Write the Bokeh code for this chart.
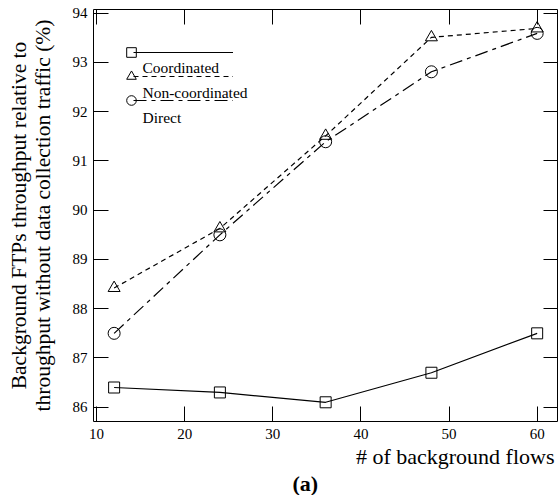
from bokeh.plotting import figure
from bokeh.models import Range1d, LinearAxis, Legend, LegendItem, FixedTicker, Label, Title
from bokeh.core.properties import value
from bokeh.embed import file_html
from bokeh.resources import INLINE

flows = [12, 24, 36, 48, 60]
coordinated = [86.4, 86.3, 86.1, 86.7, 87.5]
non_coordinated = [88.42, 89.63, 91.51, 93.51, 93.69]
direct = [87.5, 89.5, 91.39, 92.81, 93.59]
series_names = ["Coordinated", "Non-coordinated", "Direct"]
x_ticks = [10, 20, 30, 40, 50, 60]
y_ticks = [86, 87, 88, 89, 90, 91, 92, 93, 94]
x_title = "# of background flows"
y_title = "Background FTPs throughput relative to\nthroughput without data collection traffic (%)"
caption = "(a)"

FONT = "Liberation Serif"

p = figure(frame_width=465, frame_height=412,
           x_range=Range1d(9.66, 62.42), y_range=Range1d(85.71, 94.075),
           output_backend="svg", toolbar_location=None,
           min_border_left=93, min_border_right=0, min_border_top=9, min_border_bottom=74)
p.xgrid.visible = False
p.ygrid.visible = False
p.outline_line_color = "black"
p.outline_line_width = 1
p.background_fill_color = "white"
p.border_fill_color = "white"


def style_axis(ax, ticks, labels=True):
    ax.ticker = FixedTicker(ticks=ticks)
    ax.major_tick_in = 15
    ax.major_tick_out = 0
    ax.minor_tick_line_color = None
    ax.axis_line_color = None
    ax.major_tick_line_color = "black"
    ax.major_tick_line_width = 1
    if labels:
        ax.major_label_text_font = FONT
        ax.major_label_text_font_size = "15px"
        ax.major_label_text_font_style = "normal"
        ax.major_label_text_color = "black"
    else:
        ax.major_label_text_font_size = "1px"
        ax.major_label_text_color = None
        ax.major_label_standoff = 0


style_axis(p.xaxis[0], x_ticks)
style_axis(p.yaxis[0], y_ticks)
p.xaxis[0].major_label_standoff = 7
p.yaxis[0].major_label_standoff = 6

p.yaxis[0].axis_label = y_title
p.yaxis[0].axis_label_text_font = FONT
p.yaxis[0].axis_label_text_font_size = "21.5px"
p.yaxis[0].axis_label_text_line_height = 1.0
p.yaxis[0].axis_label_text_font_style = "normal"
p.yaxis[0].axis_label_text_color = "black"
p.yaxis[0].axis_label_standoff = 15

top_ax = LinearAxis()
style_axis(top_ax, x_ticks, labels=False)
p.add_layout(top_ax, "above")
right_ax = LinearAxis()
style_axis(right_ax, y_ticks, labels=False)
p.add_layout(right_ax, "right")

p.add_layout(Title(text=x_title, align="right", offset=4, text_font=FONT,
                   text_font_size="22px", text_font_style="normal",
                   text_color="black", standoff=0), "below")
p.add_layout(Title(text=caption, align="left", offset=199, text_font=FONT,
                   text_font_size="22px", text_font_style="bold",
                   text_color="black", standoff=0), "below")

lc = p.line(flows, coordinated, line_color="black", line_width=1.2)
mc = p.scatter(flows, coordinated, marker="square", size=11, fill_color=None,
               line_color="black", line_width=1)
ln = p.line(flows, non_coordinated, line_color="black", line_width=1.2,
            line_dash="5 4")
mn = p.scatter(flows, non_coordinated, marker="triangle", size=12, fill_color=None,
               line_color="black", line_width=1)
ld = p.line(flows, direct, line_color="black", line_width=1.2,
            line_dash="13 5 4 5")
md = p.scatter(flows, direct, marker="circle", size=12, fill_color=None,
               line_color="black", line_width=1)

common = dict(glyph_height=24, label_height=24, spacing=0, padding=0, margin=0,
              border_line_color=None, background_fill_alpha=0,
              label_text_font_size="1px", label_standoff=0)

leg_markers = Legend(items=[LegendItem(label=value(""), renderers=[r])
                            for r in (mc, mn, md)],
                     location=(26, 309), glyph_width=24, **common)
leg_lines = Legend(items=[LegendItem(label=value(""), renderers=[r])
                          for r in (lc, ln, ld)],
                   location=(40, 309), glyph_width=100, **common)
p.add_layout(leg_markers)
p.add_layout(leg_lines)

# legend texts, under each sample line
for i, name in enumerate(series_names):
    p.add_layout(Label(x=49, y=354 - 25 * i, x_units="screen", y_units="screen",
                       text=name, text_align="left", text_baseline="alphabetic",
                       text_font=FONT, text_font_size="15.5px",
                       text_font_style="normal", text_color="black"))

open("out.html", "w").write(file_html(p, INLINE))
